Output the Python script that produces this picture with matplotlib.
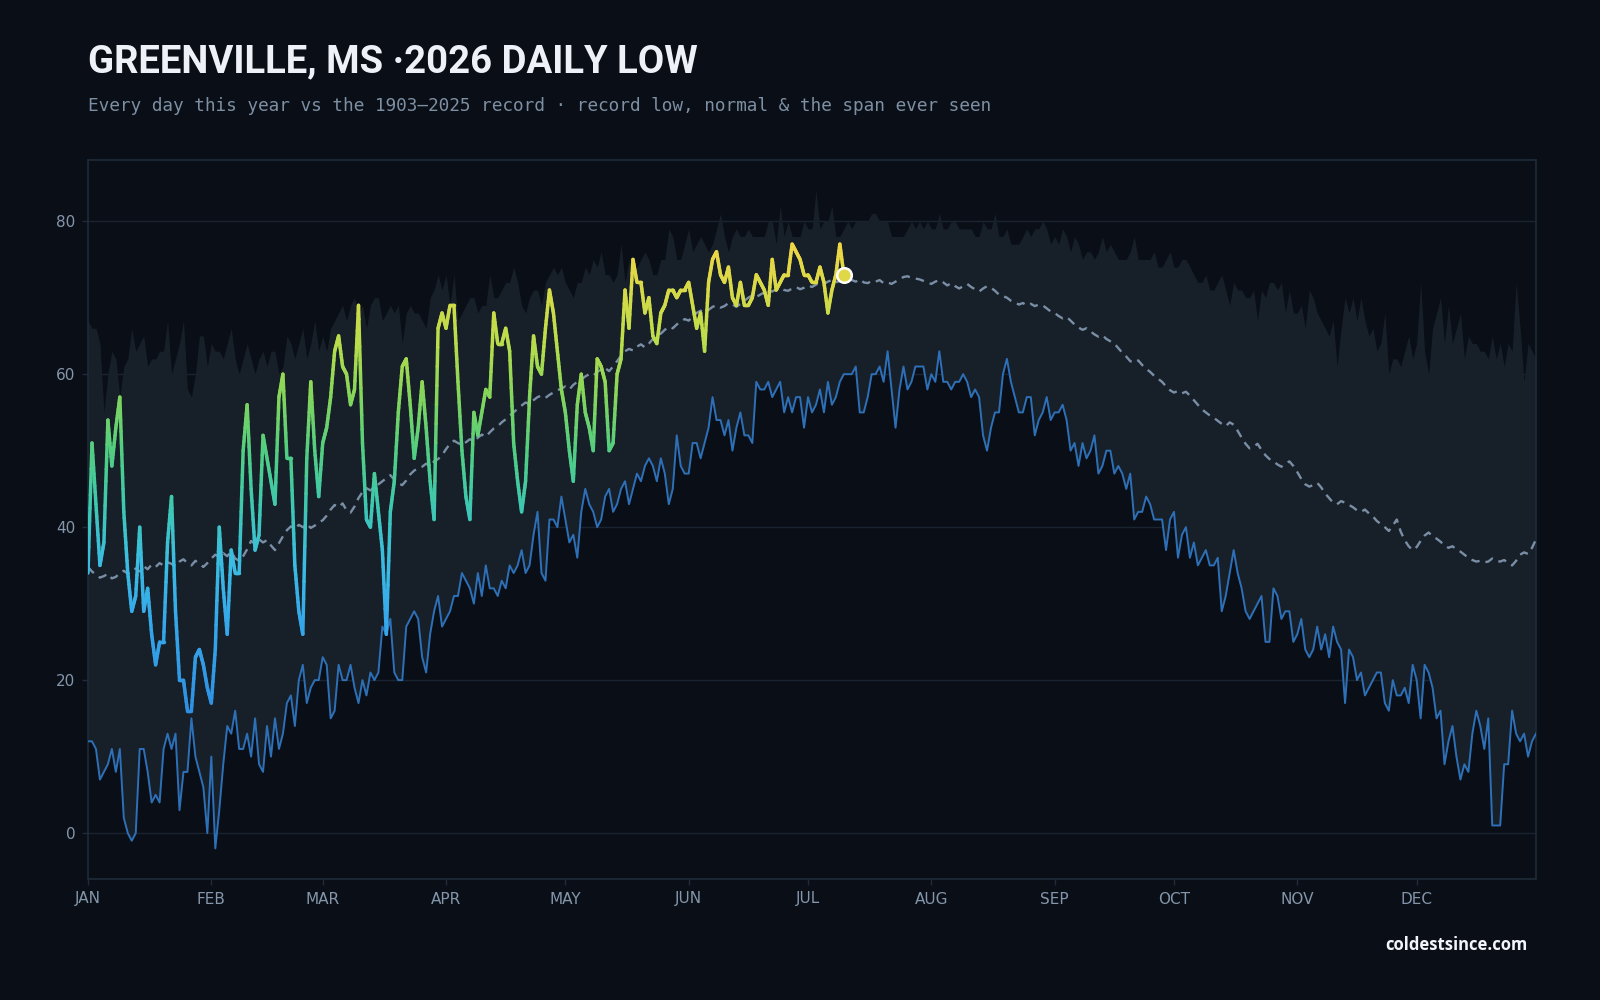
import matplotlib
matplotlib.use("Agg")
import matplotlib.pyplot as plt
import numpy as np
from matplotlib.collections import LineCollection
from matplotlib.colors import LinearSegmentedColormap, Normalize

# ---------------- data ----------------
month_labels = ["JAN", "FEB", "MAR", "APR", "MAY", "JUN", "JUL", "AUG", "SEP", "OCT", "NOV", "DEC"]
month_starts = [0, 31, 59, 90, 120, 151, 181, 212, 243, 273, 304, 334]
y_ticks = [0, 20, 40, 60, 80]

# 2026 daily lows, Jan 1 .. Jul 10
low_2026 = [
    34, 51, 43, 35, 38, 54, 48, 53, 57, 42,
    34, 29, 31, 40, 29, 32, 26, 22, 25, 25,
    38, 44, 29, 20, 20, 16, 16, 23, 24, 22,
    19, 17, 24, 40, 32, 26, 37, 34, 34, 50,
    56, 45, 37, 39, 52, 49, 46, 43, 57, 60,
    49, 49, 35, 29, 26, 49, 59, 50, 44, 51,
    53, 57, 63, 65, 61, 60, 56, 58, 69, 51,
    41, 40, 47, 42, 37, 26, 42, 46, 55, 61,
    62, 56, 49, 53, 59, 53, 46, 41, 66, 68,
    66, 69, 69, 59, 50, 44, 41, 55, 52, 55,
    58, 57, 68, 64, 64, 66, 63, 51, 46, 42,
    46, 57, 65, 61, 60, 66, 71, 68, 63, 58,
    55, 50, 46, 56, 60, 55, 53, 50, 62, 61,
    59, 50, 51, 60, 62, 71, 66, 75, 72, 72,
    68, 70, 65, 64, 68, 69, 71, 71, 70, 71,
    71, 72, 69, 66, 68, 63, 72, 75, 76, 73,
    72, 74, 70, 69, 72, 69, 69, 70, 73, 72,
    71, 69, 75, 71, 72, 73, 73, 77, 76, 75,
    73, 73, 72, 72, 74, 72, 68, 71, 73, 77,
    73,
]

# record (coldest) daily low 1903-2025
record_low = [
    12, 12, 11, 7, 8, 9, 11, 8, 11, 2,
    0, -1, 0, 11, 11, 8, 4, 5, 4, 11,
    13, 11, 13, 3, 8, 8, 15, 10, 8, 6,
    0, 10, -2, 3, 9, 14, 13, 16, 11, 11,
    13, 10, 15, 9, 8, 14, 10, 15, 11, 13,
    17, 18, 14, 20, 22, 17, 19, 20, 20, 23,
    22, 15, 16, 22, 20, 20, 22, 19, 17, 20,
    18, 21, 20, 21, 27, 26, 28, 21, 20, 20,
    27, 28, 29, 28, 23, 21, 26, 29, 31, 27,
    28, 29, 31, 31, 34, 33, 32, 30, 34, 31,
    35, 32, 32, 31, 33, 32, 35, 34, 35, 37,
    34, 35, 39, 42, 34, 33, 41, 41, 40, 44,
    41, 38, 39, 36, 42, 45, 43, 42, 40, 41,
    44, 45, 42, 43, 45, 46, 43, 45, 47, 46,
    48, 49, 48, 46, 49, 47, 43, 45, 52, 48,
    47, 47, 51, 51, 49, 51, 53, 57, 54, 54,
    52, 54, 50, 53, 55, 52, 52, 51, 59, 58,
    58, 59, 57, 58, 59, 55, 57, 55, 57, 57,
    53, 57, 55, 56, 58, 55, 59, 56, 57, 59,
    60, 60, 60, 61, 55, 55, 57, 60, 60, 61,
    59, 63, 58, 53, 58, 61, 58, 59, 61, 61,
    61, 58, 60, 59, 63, 59, 59, 58, 59, 59,
    60, 59, 57, 58, 57, 52, 50, 53, 55, 55,
    60, 62, 59, 57, 55, 55, 57, 57, 52, 54,
    55, 57, 54, 55, 55, 56, 54, 50, 51, 48,
    51, 49, 50, 52, 47, 48, 50, 50, 47, 48,
    47, 45, 47, 41, 42, 42, 44, 43, 41, 41,
    41, 37, 41, 42, 36, 39, 40, 36, 38, 35,
    36, 37, 35, 35, 36, 29, 31, 34, 37, 34,
    32, 29, 28, 29, 30, 31, 25, 25, 32, 31,
    28, 29, 29, 25, 26, 28, 24, 23, 24, 27,
    24, 26, 23, 27, 25, 24, 17, 24, 23, 20,
    21, 18, 19, 20, 21, 21, 17, 16, 20, 18,
    18, 19, 17, 22, 20, 15, 22, 21, 19, 15,
    16, 9, 12, 14, 10, 7, 9, 8, 13, 16,
    14, 11, 15, 1, 1, 1, 9, 9, 16, 13,
    12, 13, 10, 12, 13,
]

# record (warmest) daily low 1903-2025
record_high = [
    67, 66, 66, 64, 55, 60, 63, 62, 57, 61,
    62, 66, 63, 64, 65, 61, 62, 62, 63, 63,
    67, 60, 62, 64, 67, 58, 57, 60, 65, 65,
    61, 64, 63, 63, 62, 64, 66, 62, 60, 62,
    64, 62, 60, 62, 63, 61, 63, 63, 60, 61,
    65, 64, 62, 64, 66, 62, 64, 67, 63, 65,
    63, 66, 67, 68, 69, 67, 69, 70, 68, 69,
    66, 69, 70, 70, 67, 68, 69, 68, 69, 64,
    68, 69, 68, 68, 67, 66, 70, 71, 73, 71,
    73, 69, 73, 67, 68, 69, 70, 70, 68, 69,
    69, 73, 70, 70, 71, 72, 72, 74, 72, 69,
    68, 70, 71, 71, 69, 72, 73, 74, 73, 74,
    72, 71, 70, 72, 72, 74, 73, 75, 74, 76,
    73, 73, 72, 73, 77, 72, 75, 73, 74, 75,
    76, 75, 73, 73, 75, 75, 79, 78, 75, 75,
    77, 79, 76, 77, 78, 77, 76, 77, 79, 81,
    78, 76, 78, 79, 78, 78, 79, 78, 78, 78,
    78, 80, 80, 77, 82, 78, 80, 78, 78, 78,
    80, 79, 79, 84, 79, 80, 80, 82, 78, 78,
    79, 80, 79, 80, 80, 80, 80, 81, 81, 80,
    80, 80, 78, 78, 78, 78, 79, 80, 79, 80,
    79, 80, 79, 79, 81, 79, 79, 80, 80, 79,
    79, 79, 79, 78, 78, 80, 79, 79, 81, 78,
    78, 79, 77, 77, 77, 78, 79, 78, 79, 79,
    80, 79, 77, 78, 77, 79, 78, 76, 78, 77,
    75, 76, 76, 75, 76, 78, 76, 77, 76, 75,
    75, 75, 76, 78, 75, 75, 75, 75, 76, 74,
    74, 75, 76, 74, 74, 75, 75, 74, 73, 72,
    72, 73, 71, 71, 72, 73, 71, 69, 72, 71,
    71, 70, 70, 71, 67, 71, 70, 72, 72, 71,
    72, 68, 71, 68, 68, 69, 66, 71, 70, 68,
    67, 66, 65, 67, 61, 66, 70, 68, 70, 67,
    70, 67, 65, 66, 63, 64, 68, 60, 62, 62,
    61, 63, 65, 62, 64, 72, 63, 60, 66, 68,
    70, 64, 69, 64, 66, 68, 62, 65, 64, 64,
    63, 63, 62, 65, 62, 64, 61, 64, 63, 72,
    66, 59, 64, 63, 62,
]

# normal daily low
normal_low = [
    34.8, 34.2, 33.8, 33.4, 33.6, 33.9, 33.3, 33.5, 34.0, 34.3,
    33.9, 34.1, 34.6, 34.2, 34.9, 34.5, 35.1, 34.8, 35.3, 35.0,
    35.4, 35.2, 34.9, 35.5, 35.8, 35.3, 35.0, 35.6, 35.2, 34.8,
    35.3, 35.9, 36.4, 36.1, 36.6, 36.2, 36.8, 35.9, 35.6, 36.2,
    37.1, 38.2, 37.8, 38.4, 38.0, 38.3, 37.6, 37.0, 37.9, 38.8,
    39.6, 40.1, 39.8, 40.3, 40.0, 40.4, 39.9, 40.2, 40.6, 40.9,
    41.5, 42.3, 42.9, 42.6, 43.1, 42.2, 41.9, 42.7, 43.8, 44.6,
    45.1, 44.8, 45.3, 45.6, 46.0, 46.4, 46.8, 46.2, 45.7, 45.5,
    46.1, 46.9, 47.4, 47.7, 47.9, 48.3, 48.0, 48.6, 48.9, 49.4,
    50.2, 50.9, 51.3, 51.0, 50.7, 51.1, 51.5, 51.2, 51.7, 52.1,
    51.8, 52.4, 52.9, 53.2, 53.7, 54.1, 54.6, 55.0, 55.5, 55.9,
    56.3, 56.1, 56.6, 57.0, 57.2, 56.9, 57.3, 57.6, 57.9, 58.1,
    58.4, 58.0, 58.6, 59.0, 59.3, 59.7, 60.0, 59.8, 60.3, 60.6,
    60.8, 60.4, 61.0, 61.7, 62.4, 63.0, 63.3, 63.1, 63.6, 63.9,
    63.5, 64.0, 64.6, 65.0, 65.3, 65.8, 66.2, 66.0, 66.5, 66.9,
    67.2, 67.0, 67.5, 68.0, 68.3, 68.1, 68.4, 68.8, 69.0, 68.7,
    68.9, 69.3, 69.1, 68.8, 69.2, 69.6, 70.0, 70.3, 70.1, 70.4,
    70.7, 71.0, 70.8, 71.1, 71.3, 71.0, 70.9, 71.2, 71.4, 71.1,
    71.3, 71.6, 71.4, 71.7, 72.0, 71.8, 72.1, 72.3, 72.0, 72.2,
    72.4, 72.6, 72.3, 72.1, 72.4, 72.0, 71.9, 72.2, 72.1, 72.3,
    71.9, 72.0, 71.8, 72.1, 72.4, 72.7, 72.8, 72.6, 72.5, 72.4,
    72.2, 72.0, 71.8, 72.1, 72.3, 72.0, 71.6, 71.9, 71.5, 71.2,
    71.5, 71.8, 71.4, 71.1, 70.8, 71.2, 71.5, 71.3, 70.9, 70.4,
    70.2, 70.0, 69.6, 69.4, 69.1, 69.3, 69.0, 69.2, 68.9, 69.1,
    69.0, 68.6, 68.2, 68.0, 67.6, 67.3, 67.5, 67.0, 66.5, 66.1,
    65.8, 66.0, 65.6, 65.2, 64.9, 65.1, 64.6, 64.3, 64.0, 63.4,
    62.8, 62.3, 61.7, 61.5, 61.8, 61.2, 60.7, 60.3, 59.8, 59.4,
    59.0, 58.4, 57.9, 57.6, 57.8, 57.5, 57.7, 57.2, 56.6, 56.0,
    55.4, 55.0, 54.6, 54.3, 53.9, 53.5, 53.2, 53.7, 53.4, 52.6,
    51.7, 50.9, 50.3, 50.5, 50.9, 50.1, 49.4, 48.9, 48.6, 48.2,
    47.9, 48.3, 48.6, 48.0, 47.2, 46.3, 45.6, 45.3, 45.5, 45.8,
    45.2, 44.4, 43.8, 43.2, 43.0, 43.4, 43.2, 42.9, 42.6, 42.2,
    42.0, 42.3, 41.8, 41.4, 40.8, 40.4, 40.0, 39.5, 40.2, 41.0,
    39.4, 38.3, 37.5, 37.0, 37.4, 38.2, 38.9, 39.3, 38.8, 38.5,
    38.1, 37.6, 37.3, 37.5, 37.1, 36.8, 36.4, 36.0, 35.7, 35.5,
    35.6, 35.4, 35.5, 35.9, 35.6, 35.5, 35.7, 35.3, 35.0, 35.6,
    36.4, 36.7, 36.5, 37.3, 38.4,
]

# ---------------- style ----------------
BG = "#0a0e16"
BAND = "#172029"
GRID = "#1a2330"
SPINE = "#1f2b3a"
TICK = "#8496ab"

fig = plt.figure(figsize=(16, 10), dpi=100, facecolor=BG)
ax = fig.add_axes([0.055, 0.121, 0.905, 0.719], facecolor=BG)

days = np.arange(len(record_low))
ax.fill_between(days, record_low, record_high, color=BAND, lw=0, zorder=1)

for yt in y_ticks:
    ax.axhline(yt, color=GRID, lw=1, zorder=0.5)

ax.plot(days, record_low, color="#2e70b8", lw=1.4, zorder=3)
ax.plot(days, normal_low, color="#7a8ea6", lw=1.7, ls=(0, (3.6, 2.6)), zorder=3)

# colour ramp by temperature (vertical gradient along the line)
cmap = LinearSegmentedColormap.from_list(
    "lows",
    [(0.00, "#2e90e2"), (0.20, "#36a9ea"), (0.32, "#3bbde2"), (0.44, "#3ec8b0"),
     (0.56, "#52ce80"), (0.68, "#86d65a"), (0.80, "#bddd4a"), (1.00, "#f0d646")])
norm = Normalize(16, 77)
x26 = np.arange(len(low_2026), dtype=float)
y26 = np.array(low_2026, dtype=float)
sub = 10
t = np.linspace(0, 1, sub + 1)
xs = np.concatenate([x26[i] + (x26[i + 1] - x26[i]) * t[:-1] for i in range(len(x26) - 1)] + [x26[-1:]])
ys = np.concatenate([y26[i] + (y26[i + 1] - y26[i]) * t[:-1] for i in range(len(y26) - 1)] + [y26[-1:]])
pts = np.column_stack([xs, ys]).reshape(-1, 1, 2)
segs = np.concatenate([pts[:-1], pts[1:]], axis=1)
lc = LineCollection(segs, cmap=cmap, norm=norm, linewidths=2.5, capstyle="round",
                    joinstyle="round", zorder=4)
lc.set_array((ys[:-1] + ys[1:]) / 2)
ax.add_collection(lc)
ax.scatter([x26[-1]], [y26[-1]], s=110, color=cmap(norm(y26[-1])), edgecolor="white",
           linewidth=1.8, zorder=5)

ax.set_xlim(0, 364)
ax.set_ylim(-6, 88)
ax.set_xticks(month_starts)
ax.set_xticklabels(month_labels)
ax.set_yticks(y_ticks)
ax.set_yticklabels([str(v) for v in y_ticks])
ax.tick_params(colors=TICK, labelsize=11, length=4, width=1, pad=5)
ax.tick_params(axis="both", color=SPINE)
for s in ax.spines.values():
    s.set_color(SPINE)
    s.set_linewidth(1.2)

fig.text(0.055, 0.938, "GREENVILLE, MS \u00b72026 DAILY LOW", color="#eef2f8",
         fontsize=27.5, fontweight="bold", family="Roboto", va="center", ha="left")
fig.text(0.055, 0.894,
         "Every day this year vs the 1903\u20132025 record \u00b7 record low, normal & the span ever seen",
         color="#7d8fa3", fontsize=12.8, family="DejaVu Sans Mono", va="center", ha="left")
fig.text(0.955, 0.055, "coldestsince.com", color="#f2f5fa", fontsize=12, fontweight="bold",
         family="Open Sans", va="center", ha="right")

fig.savefig("out.png", dpi=100, facecolor=BG)
